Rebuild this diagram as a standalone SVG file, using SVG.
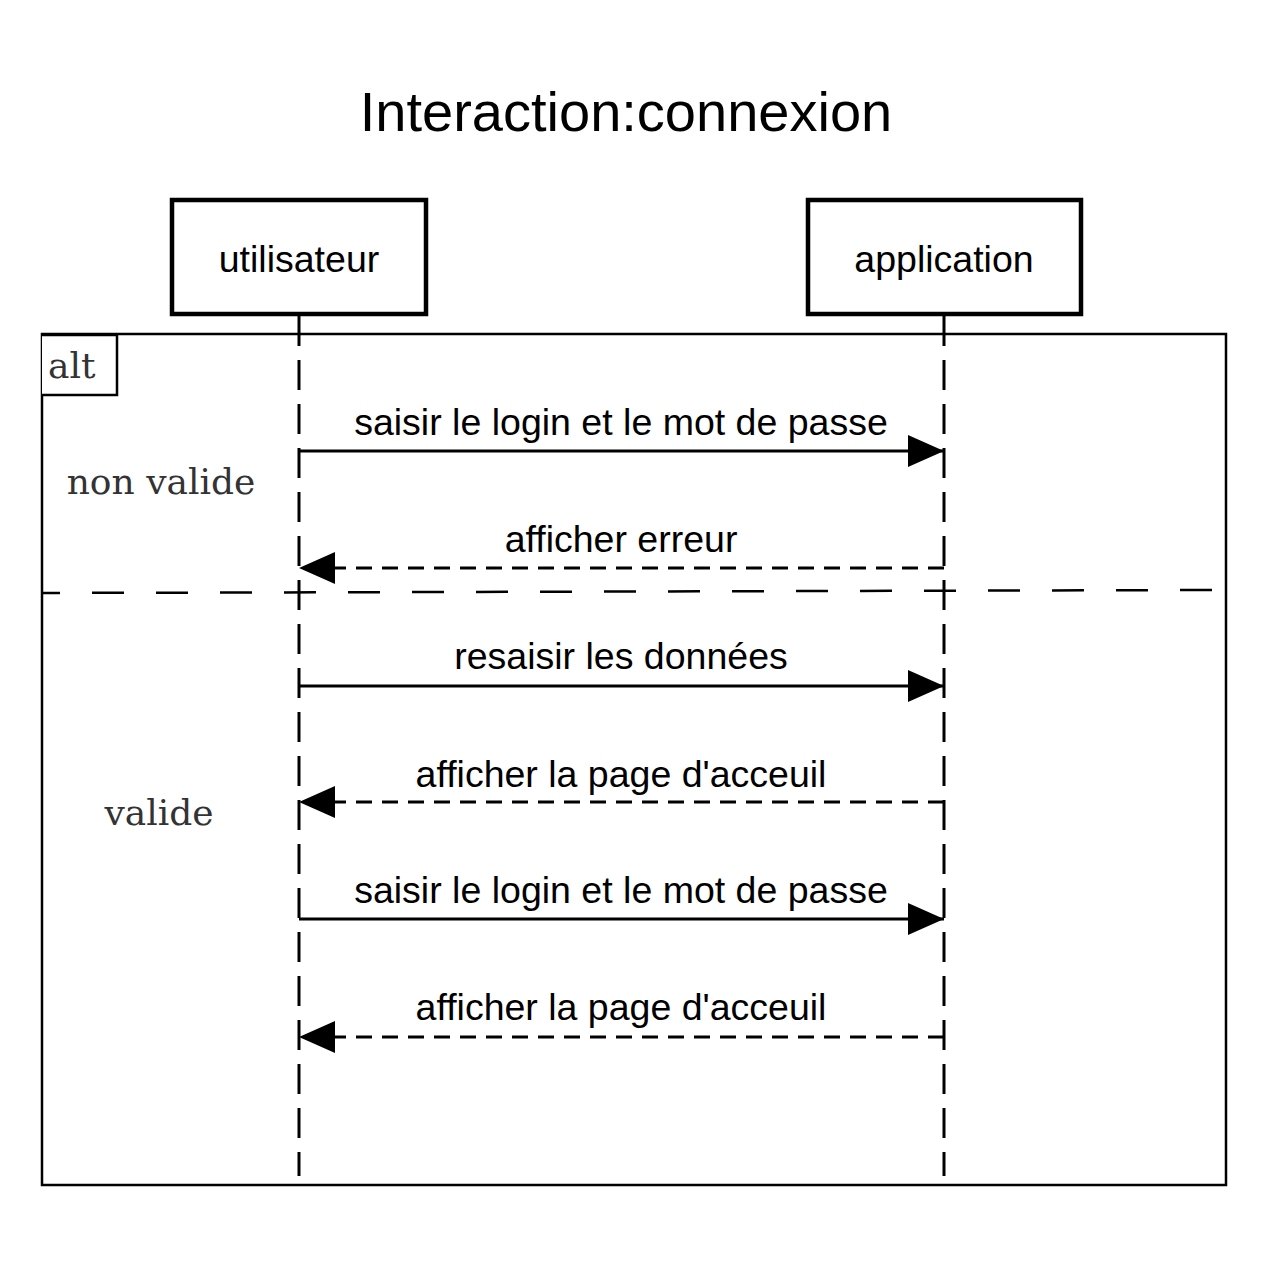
<svg xmlns="http://www.w3.org/2000/svg" width="1280" height="1280" viewBox="0 0 1280 1280">
<defs>
<style>
.box{fill:#fff;stroke:#000;stroke-width:4.5}
.frame{fill:none;stroke:#000;stroke-width:2.5}
.life{stroke:#000;stroke-width:3;stroke-dasharray:30 14;fill:none}
.msg{stroke:#000;stroke-width:3;fill:none;marker-end:url(#head)}
.ret{stroke:#000;stroke-width:3;fill:none;stroke-dasharray:16 10;marker-end:url(#head)}
.lbl{font-family:"Liberation Sans",Arial,sans-serif;font-size:37.5px;fill:#000;text-anchor:middle}
.guard{font-family:"DejaVu Serif","Liberation Serif",serif;font-size:36px;fill:#333}
</style>
<marker id="head" viewBox="0 0 36 32" refX="36" refY="16" markerWidth="36" markerHeight="32" markerUnits="userSpaceOnUse" orient="auto">
<path d="M0,0 L36,16 L0,32 Z" fill="#000" stroke="none"/>
</marker>
</defs>
<rect width="1280" height="1280" fill="#fff"/>
<text x="626" y="131" font-family="Liberation Sans,Arial,sans-serif" font-size="56" text-anchor="middle" fill="#000">Interaction:connexion</text>
<g id="frame-alt">
<rect class="frame" x="42" y="334" width="1184" height="851"/>
<path d="M42,335 H117 V395 H42" fill="#fff" stroke="#000" stroke-width="2.5"/>
<text x="48" y="378" class="guard">alt</text>
<line x1="42" y1="593" x2="1226" y2="590" stroke="#000" stroke-width="2.5" stroke-dasharray="32 32" stroke-dashoffset="14"/>
<text x="161" y="494" class="guard" text-anchor="middle">non valide</text>
<text x="159" y="825" class="guard" text-anchor="middle">valide</text>
</g>
<g id="lifelines">
<line class="life" x1="299" y1="316" x2="299" y2="1176"/>
<line class="life" x1="944" y1="316" x2="944" y2="1176"/>
</g>
<g id="node-utilisateur">
<rect class="box" x="172" y="200" width="254" height="114"/>
<text x="299" y="272" class="lbl">utilisateur</text>
</g>
<g id="node-application">
<rect class="box" x="808" y="200" width="273" height="114"/>
<text x="944" y="272" class="lbl">application</text>
</g>
<g id="connectors">
<line class="msg" x1="299" y1="451" x2="944" y2="451"/>
<text x="621" y="435" class="lbl">saisir le login et le mot de passe</text>
<line class="ret" x1="944" y1="568" x2="299" y2="568"/>
<text x="621" y="552" class="lbl">afficher erreur</text>
<line class="msg" x1="299" y1="686" x2="944" y2="686"/>
<text x="621" y="669" class="lbl">resaisir les données</text>
<line class="ret" x1="944" y1="802" x2="299" y2="802"/>
<text x="621" y="787" class="lbl">afficher la page d'acceuil</text>
<line class="msg" x1="299" y1="919" x2="944" y2="919"/>
<text x="621" y="903" class="lbl">saisir le login et le mot de passe</text>
<line class="ret" x1="944" y1="1037" x2="299" y2="1037"/>
<text x="621" y="1020" class="lbl">afficher la page d'acceuil</text>
</g>
</svg>
